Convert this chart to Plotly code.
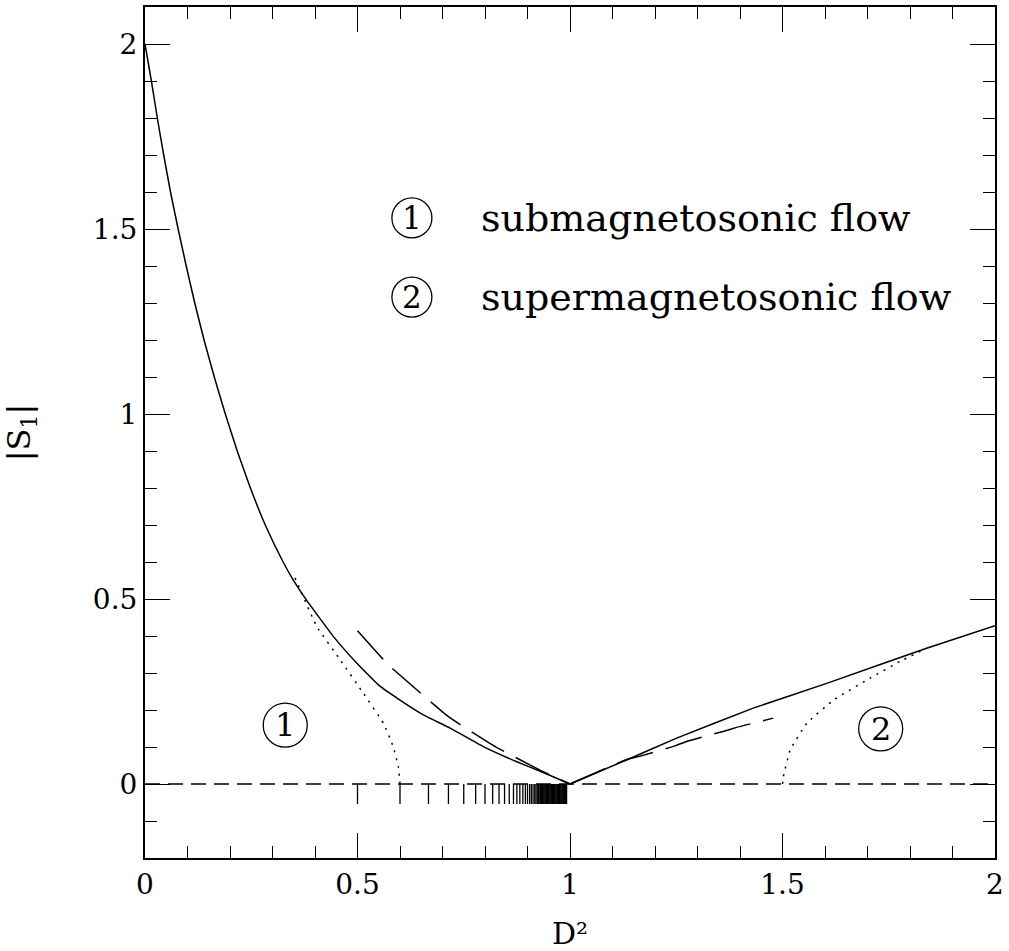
import plotly.graph_objects as go

# ---- data ----
solid_left_x = [0.0, 0.015, 0.029, 0.044, 0.060, 0.078, 0.097, 0.117, 0.139, 0.163, 0.189,
                0.217, 0.248, 0.283, 0.325, 0.349, 0.380, 0.443, 0.498, 0.549, 0.600,
                0.655, 0.718, 0.796, 0.875, 0.937, 1.0]
solid_left_y = [2.0, 1.9, 1.8, 1.7, 1.6, 1.5, 1.4, 1.3, 1.2, 1.1, 1.0,
                0.9, 0.8, 0.7, 0.6, 0.551, 0.497, 0.399, 0.327, 0.268, 0.227,
                0.187, 0.151, 0.101, 0.060, 0.031, 0.0]

solid_right_x = [1.0, 1.133, 1.251, 1.431, 1.604, 1.839, 2.0]
solid_right_y = [0.0, 0.065, 0.124, 0.205, 0.272, 0.367, 0.428]

dotted_left_x = [0.353, 0.404, 0.459, 0.514, 0.561, 0.584, 0.596, 0.600]
dotted_left_y = [0.557, 0.426, 0.336, 0.245, 0.164, 0.101, 0.047, 0.0]

dotted_right_x = [1.500, 1.502, 1.518, 1.557, 1.620, 1.706, 1.776, 1.839]
dotted_right_y = [0.0, 0.020, 0.092, 0.164, 0.227, 0.286, 0.331, 0.367]

dashed_left_x = [0.500, 0.561, 0.584, 0.702, 0.725, 0.804, 0.827, 0.910, 0.937, 1.0]
dashed_left_y = [0.414, 0.336, 0.310, 0.193, 0.173, 0.115, 0.099, 0.049, 0.033, 0.0]

dashed_right_x = [1.0, 1.133, 1.161, 1.247, 1.274, 1.360, 1.392, 1.478]
dashed_right_y = [0.0, 0.066, 0.074, 0.103, 0.115, 0.142, 0.153, 0.178]

rug_x = [0.500, 0.600, 0.667, 0.714, 0.750, 0.778, 0.800, 0.818, 0.833, 0.846, 0.857,
         0.867, 0.875, 0.882, 0.889, 0.895, 0.900, 0.905, 0.909, 0.913, 0.917, 0.920,
         0.923, 0.926, 0.929, 0.931, 0.933, 0.935, 0.937, 0.939, 0.941, 0.943, 0.945,
         0.947, 0.949, 0.951, 0.953, 0.955, 0.957, 0.959, 0.961, 0.963, 0.965, 0.967,
         0.969, 0.971, 0.973, 0.975, 0.977, 0.979, 0.981, 0.983, 0.985, 0.987, 0.989,
         0.991, 0.992]
rug_depth = -0.054

legend_labels = ["submagnetosonic flow", "supermagnetosonic flow"]
legend_numbers = ["1", "2"]
legend_y = [1.53, 1.316]
region_numbers = ["1", "2"]
region_x = [0.330, 1.731]
region_y = [0.159, 0.149]

x_title = "D²"
y_title = "|S<sub>1</sub>|"

FONT = "DejaVu Serif"
BLACK = "black"

fig = go.Figure()

# zero line
fig.add_trace(go.Scatter(x=[0, 2], y=[0, 0], mode="lines",
                         line=dict(color=BLACK, width=1.3, dash="15px,8px"),
                         hoverinfo="skip"))
# rug ticks
rx, ry = [], []
for v in rug_x:
    rx += [v, v, None]
    ry += [0, rug_depth, None]
fig.add_trace(go.Scatter(x=rx, y=ry, mode="lines",
                         line=dict(color=BLACK, width=1.3), hoverinfo="skip"))

for xs, ys, dash in [
    (solid_left_x, solid_left_y, "solid"),
    (solid_right_x, solid_right_y, "solid"),
    (dotted_left_x, dotted_left_y, "2px,6px"),
    (dotted_right_x, dotted_right_y, "2px,6px"),
    (dashed_left_x, dashed_left_y, "38px,13px"),
    (dashed_right_x, dashed_right_y, "38px,13px"),
]:
    fig.add_trace(go.Scatter(x=xs, y=ys, mode="lines",
                             line=dict(color=BLACK, width=1.5, dash=dash,
                                       shape="spline", smoothing=0.3),
                             hoverinfo="skip"))

shapes = []
annotations = []
R = 21
for num, yy, lab in zip(legend_numbers, legend_y, legend_labels):
    shapes.append(dict(type="circle", xref="x", yref="y", xsizemode="pixel",
                       ysizemode="pixel", xanchor=0.628, yanchor=yy,
                       x0=-R + 1, x1=R - 1, y0=-R + 1, y1=R - 1,
                       line=dict(color=BLACK, width=1.3)))
    annotations.append(dict(x=0.628, y=yy, text=num, showarrow=False,
                            font=dict(family=FONT, size=31, color=BLACK),
                            xanchor="center", yanchor="middle"))
    annotations.append(dict(x=0.785, y=yy, text=lab, showarrow=False,
                            font=dict(family=FONT, size=38, color=BLACK),
                            xanchor="left", yanchor="middle"))
for num, xx, yy in zip(region_numbers, region_x, region_y):
    shapes.append(dict(type="circle", xref="x", yref="y", xsizemode="pixel",
                       ysizemode="pixel", xanchor=xx, yanchor=yy,
                       x0=-R - 1, x1=R + 1, y0=-R - 1, y1=R + 1,
                       line=dict(color=BLACK, width=1.3)))
    annotations.append(dict(x=xx, y=yy, text=num, showarrow=False,
                            font=dict(family=FONT, size=32, color=BLACK),
                            xanchor="center", yanchor="middle"))

axis_common = dict(showline=True, linecolor=BLACK, linewidth=2, mirror="allticks",
                   ticks="inside", ticklen=25, tickwidth=1.3, tickcolor=BLACK,
                   showgrid=False, zeroline=False, automargin=False,
                   tickfont=dict(family=FONT, size=28, color=BLACK))

fig.update_layout(
    width=1009, height=951,
    margin=dict(l=145, r=14, t=7, b=93),
    paper_bgcolor="white", plot_bgcolor="white",
    showlegend=False,
    shapes=shapes, annotations=annotations,
    xaxis=dict(range=[0, 2], tickvals=[0, 0.5, 1, 1.5, 2],
               ticktext=["0", "0.5", "1", "1.5", "2"],
               minor=dict(ticks="inside", ticklen=12, tickwidth=1.3,
                          tickcolor=BLACK, dtick=0.1, tick0=0),
               title=dict(text=x_title, font=dict(family=FONT, size=30, color=BLACK),
                          standoff=34),
               **axis_common),
    yaxis=dict(range=[-0.2, 2.1], tickvals=[0, 0.5, 1, 1.5, 2],
               ticktext=["0", "0.5", "1", "1.5", "2"],
               minor=dict(ticks="inside", ticklen=12, tickwidth=1.3,
                          tickcolor=BLACK, dtick=0.1, tick0=0),
               title=dict(text=y_title, font=dict(family=FONT, size=32, color=BLACK),
                          standoff=58),
               **axis_common),
)

fig.write_html("out.html", config={"displayModeBar": False},
               post_script="document.body.style.margin='0';document.body.style.padding='0';")
